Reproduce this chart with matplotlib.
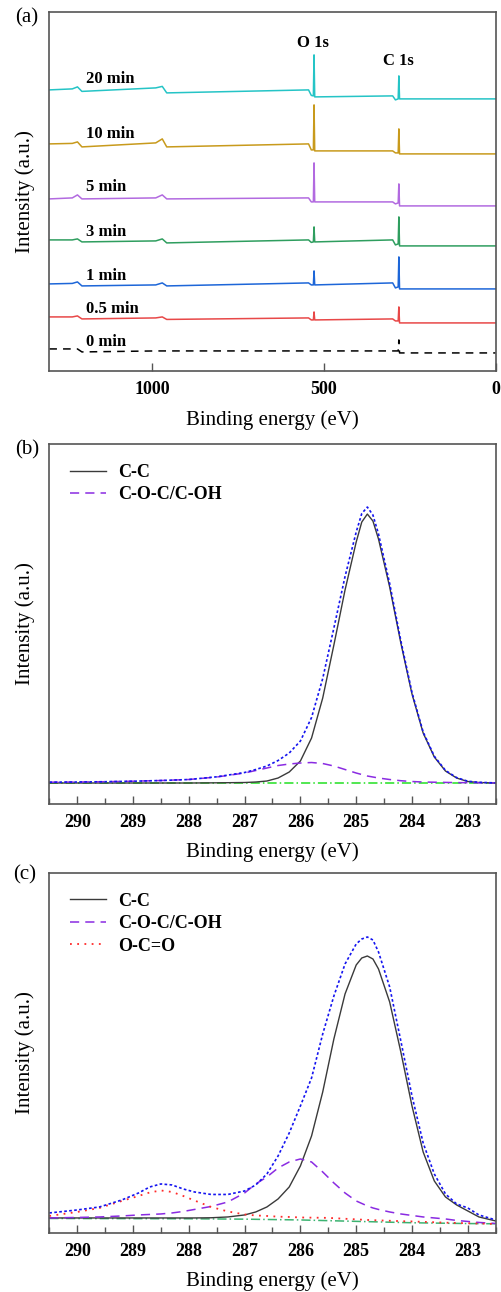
import matplotlib
matplotlib.use('Agg')
import matplotlib.pyplot as plt
from matplotlib.ticker import MultipleLocator, FixedLocator

plt.rcParams['font.family'] = ['Liberation Serif', 'DejaVu Serif']

# ---------------- (a) survey spectra ----------------
survey_energy = [1300, 1233, 1218, 1205, 990, 971, 958, 545, 537, 531, 529, 527,
                 300, 292, 284, 282, 280, 0]
survey_labels = ['20 min', '10 min', '5 min', '3 min', '1 min', '0.5 min', '0 min']
survey_20 = [281, 282, 284, 279.5, 283, 284.5, 278, 281, 275.5, 275, 316, 274, 275, 271, 272, 295, 272, 272]
survey_10 = [227, 227.5, 229, 224, 228, 232, 224, 227, 221, 221, 266, 220, 220, 218, 218, 242, 217, 217]
survey_5 = [172, 173, 176, 172, 173, 176, 172, 173, 169, 169, 208, 169, 169, 167, 168, 187, 165, 165]
survey_3 = [131, 131, 132, 129, 130, 132, 128, 131, 128.5, 129, 144, 129, 131, 126, 127, 154, 125, 125]
survey_1 = [87, 87.5, 89, 85, 86, 88, 85, 88, 86, 86, 100, 86, 88, 83, 84, 114, 82, 82]
survey_05 = [54, 54, 55, 52, 53, 54, 51.5, 53, 51, 51, 59, 51, 52, 50, 50, 64, 48, 48]
survey_0 = [22, 22, 22, 19, 20, 20, 20, 20, 20, 20, 20, 20, 20, 20, 20, 31, 18, 18]
survey_label_y = [292, 237, 184, 139, 95, 62, 29]
survey_colors = ['#25c4c6', '#c89a1c', '#b26ae0', '#2f9e5f', '#1d66d8', '#e84848', 'black']

# ---------------- (b) C 1s fit ----------------
energy_b = [290.5, 290.0, 289.5, 289.0, 288.5, 288.0, 287.5, 287.0, 286.8, 286.6, 286.4, 286.2,
            286.0, 285.8, 285.6, 285.4, 285.2, 285.0, 284.9, 284.8, 284.7, 284.6, 284.4, 284.2,
            284.0, 283.8, 283.6, 283.4, 283.2, 283.0, 282.8, 282.5]
cc_b = [0, 0, 0, 0, 0, 0, 0.2, 0.5, 1, 2, 5, 11, 22, 45, 85, 138, 193, 241, 261, 269, 262, 244,
        196, 140, 89, 50, 26, 12, 5, 1.5, 0.5, 0]
coc_b = [0.8, 1, 1.3, 1.8, 2.5, 3.5, 6, 10, 12.5, 15, 17.5, 19, 20, 20.5, 19.5, 17, 13.5, 10,
         8.5, 7, 6, 5, 3.5, 2.3, 1.5, 1, 0.8, 0.6, 0.4, 0.3, 0.2, 0.1]
env_b = [0.8, 1, 1.3, 1.8, 2.5, 3.5, 6.2, 10.5, 13.5, 17, 22.5, 30, 42, 65.5, 104.5, 155, 206.5,
         251, 269.5, 276, 268, 249, 199.5, 142.3, 90.5, 51, 26.8, 12.6, 5.4, 1.8, 0.7, 0.1]
base_b_energy = [290.5, 282.5]
base_b = [0, 0]

# ---------------- (c) C 1s fit ----------------
energy_c = [290.5, 290.0, 289.6, 289.2, 288.9, 288.7, 288.5, 288.3, 288.1, 287.9, 287.6, 287.3,
            287.0, 286.8, 286.6, 286.4, 286.2, 286.0, 285.8, 285.6, 285.4, 285.2, 285.0, 284.9,
            284.8, 284.7, 284.6, 284.4, 284.2, 284.0, 283.8, 283.6, 283.4, 283.2, 283.0, 282.8, 282.5]
cc_c = [6, 6, 6, 6, 6, 6, 6, 6, 6, 6, 6.2, 7, 9, 12, 17, 25, 37, 58, 88, 132, 185, 230, 259, 266,
        268, 265, 255, 222, 172, 118, 72, 43, 27, 19, 13, 7, 3]
coc_c = [6, 6.5, 7, 8, 9, 9.5, 10, 11, 12.5, 14.5, 17.5, 22, 31, 40, 47, 56, 62, 65, 62, 52, 41,
         31, 23, 20.5, 18, 16, 14.5, 12, 10, 8.5, 7, 6, 5, 3.5, 2.5, 1.5, 0.5]
oco_c = [8, 12, 16, 23, 28, 31.5, 33.5, 32, 28, 23.5, 17, 12.5, 9.5, 8.5, 8, 7.3, 7, 6.5, 6.3, 6.2,
         5.8, 5.2, 4.6, 4.3, 4, 3.8, 3.6, 3.2, 2.8, 2.5, 2.1, 1.7, 1.3, 1.0, 0.7, 0.4, 0]
env_c = [11, 14, 17, 24, 31, 37, 40, 39, 35, 32, 29.5, 29.5, 33, 39, 50, 68, 91, 118, 146, 190,
         228, 260, 280, 285, 287, 284, 272, 237, 183, 128, 81, 50, 30, 20, 16, 9, 4]
base_c_energy = [290.5, 288.0, 287.0, 286.0, 285.0, 284.0, 283.0, 282.5]
base_c = [5.5, 5.2, 4.8, 4, 2.6, 1.2, 0.4, 0.2]

fig = plt.figure(figsize=(5.01, 12.92), dpi=100)
L, W, H = 0.0984, 0.891, 0.2786
ax_a = fig.add_axes([L, 0.7129, W, 0.2779])
ax_b = fig.add_axes([L, 0.3777, W, H])
ax_c = fig.add_axes([L, 0.0457, W, H])

spine_color = '#555555'
for ax in (ax_a, ax_b, ax_c):
    for s in ax.spines.values():
        s.set_color(spine_color)
        s.set_linewidth(1.2)
    ax.tick_params(axis='x', which='both', direction='in', top=False, colors=spine_color,
                   labelcolor='black', labelsize=13, pad=7)
    ax.tick_params(axis='x', which='major', length=6, width=1)
    ax.tick_params(axis='x', which='minor', length=4, width=1)
    ax.tick_params(axis='y', left=False, labelleft=False)
    ax.set_ylabel('Intensity (a.u.)', fontsize=15)
    ax.yaxis.set_label_coords(-0.033, 0.5)
    ax.set_xlabel('Binding energy (eV)', fontsize=15)

# (a)
series = [survey_20, survey_10, survey_5, survey_3, survey_1, survey_05, survey_0]
for vals, lab, c, ly in zip(series, survey_labels, survey_colors, survey_label_y):
    ls = (0, (5, 4)) if lab == '0 min' else '-'
    ax_a.plot(survey_energy, vals, color=c, lw=1.1, ls=ls)
    ax_a.text(1193, ly, lab, fontsize=12, fontweight='bold', ha='left', va='center')
ax_a.text(531, 328, 'O 1s', fontsize=12, fontweight='bold', ha='center', va='center')
ax_a.text(282, 310, 'C 1s', fontsize=12, fontweight='bold', ha='center', va='center')
ax_a.set_xlim(1300, 0)
ax_a.set_ylim(0, 359)
ax_a.xaxis.set_major_locator(FixedLocator([1000, 500, 0]))
ax_a.xaxis.set_label_coords(0.5, -0.136)
ax_a.xaxis.label.set_va('center')

# (b)
ax_b.plot(base_b_energy, base_b, color='#22e022', lw=1.1, ls=(0, (6, 2, 1, 2)))
ax_b.plot(energy_b, cc_b, color='#3a3a3a', lw=1.0, label='C-C')
ax_b.plot(energy_b, coc_b, color='#8a2be2', lw=1.1, ls=(0, (6, 4)), label='C-O-C/C-OH')
ax_b.plot(energy_b, env_b, color='#1414f0', lw=1.2, ls=(0, (1.6, 1.4)))
ax_b.set_xlim(290.5, 282.5)
ax_b.set_ylim(-21, 339)

# (c)
ax_c.plot(base_c_energy, base_c, color='#3cb371', lw=1.1, ls=(0, (6, 2, 1, 2)))
ax_c.plot(energy_c, cc_c, color='#3a3a3a', lw=1.0, label='C-C')
ax_c.plot(energy_c, coc_c, color='#8a2be2', lw=1.1, ls=(0, (6, 4)), label='C-O-C/C-OH')
ax_c.plot(energy_c, oco_c, color='#ff2a2a', lw=1.3, ls=(0, (1, 3)), label='O-C=O')
ax_c.plot(energy_c, env_c, color='#1414f0', lw=1.2, ls=(0, (1.6, 1.4)))
ax_c.set_xlim(290.5, 282.5)
ax_c.set_ylim(-9, 351)

for ax in (ax_b, ax_c):
    ax.xaxis.set_major_locator(MultipleLocator(1))
    ax.xaxis.set_minor_locator(MultipleLocator(0.5))
    ax.xaxis.set_label_coords(0.5, -0.133)
    ax.xaxis.label.set_va('center')
    ax.legend(loc='upper left', bbox_to_anchor=(0.046, 0.945), frameon=False,
              borderaxespad=0, borderpad=0, handlelength=2.0, handletextpad=0.65,
              labelspacing=0.3, prop={'size': 13, 'weight': 'bold'})

for ax in (ax_a, ax_b, ax_c):
    for lab in ax.get_xticklabels():
        lab.set_fontweight('bold')

fig.text(27 / 501, 1 - 18 / 1292, '(a)', fontsize=15, ha='center', va='center')
fig.text(27 / 501, 1 - 450 / 1292, '(b)', fontsize=15, ha='center', va='center')
fig.text(25 / 501, 1 - 875 / 1292, '(c)', fontsize=15, ha='center', va='center')

fig.savefig('out.png', dpi=100)
